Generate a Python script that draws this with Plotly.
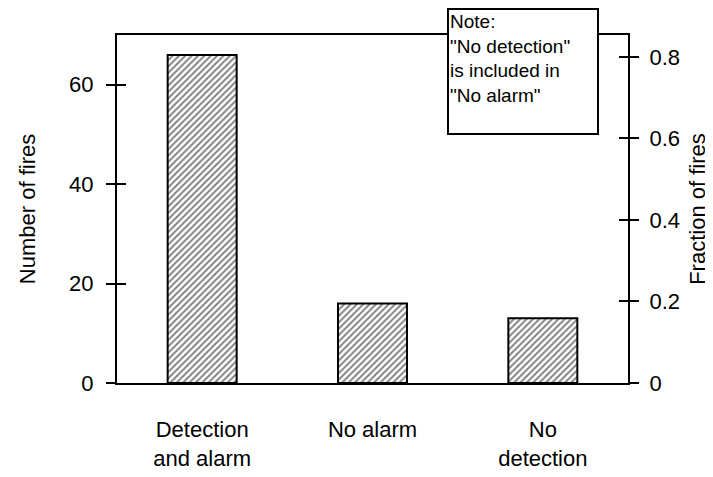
import plotly.graph_objects as go

categories = ["Detection<br>and alarm", "No alarm", "No<br>detection"]
counts = [66, 16, 13]
total_fires = 82
fractions = [c / total_fires for c in counts]
left_ticks = [0, 20, 40, 60]
right_ticks = [0, 0.2, 0.4, 0.6, 0.8]
right_tick_text = ["0", "0.2", "0.4", "0.6", "0.8"]
note_text = 'Note:<br>"No detection"<br>is included in<br>"No alarm"'

FONT = "Liberation Sans, Arial, Helvetica, sans-serif"
ymax = 70

fig = go.Figure()
fig.add_trace(go.Bar(
    x=categories, y=counts, width=0.405,
    marker=dict(color="white", line=dict(color="black", width=2),
                pattern=dict(shape="/", fgcolor="black", bgcolor="white",
                             size=4.5, solidity=0.42)),
    hoverinfo="skip", showlegend=False, yaxis="y"))
fig.add_trace(go.Scatter(x=categories, y=fractions, mode="markers",
                         marker=dict(opacity=0), yaxis="y2",
                         hoverinfo="skip", showlegend=False))
fig.add_trace(go.Scatter(x=categories, y=counts, mode="markers",
                         marker=dict(opacity=0), yaxis="y3",
                         hoverinfo="skip", showlegend=False))
fig.add_trace(go.Scatter(x=categories, y=fractions, mode="markers",
                         marker=dict(opacity=0), yaxis="y4",
                         hoverinfo="skip", showlegend=False))

tickfont = dict(family=FONT, size=22, color="black")
fig.update_layout(
    width=705, height=469,
    margin=dict(l=109, r=85, t=27, b=94, autoexpand=False),
    paper_bgcolor="white", plot_bgcolor="white",
    font=dict(family=FONT, size=22, color="black"),
    xaxis=dict(type="category", range=[-0.5, 2.5], showline=True,
               linecolor="black", linewidth=2, mirror=True, ticks="",
               showgrid=False, tickfont=tickfont, ticklabelstandoff=26,
               automargin=False),
    yaxis=dict(range=[0, ymax], tickvals=left_ticks, ticks="outside",
               ticklen=9, tickwidth=2, tickcolor="black", showline=True,
               linecolor="black", linewidth=2, showgrid=False,
               zeroline=False, tickfont=tickfont, ticklabelstandoff=8,
               automargin=False,
               title=dict(text="Number of fires", font=tickfont, standoff=27)),
    yaxis2=dict(range=[0, ymax / total_fires], overlaying="y", side="right",
                tickvals=right_ticks, ticktext=right_tick_text,
                ticks="outside", ticklen=9, tickwidth=2, tickcolor="black",
                showline=True, linecolor="black", linewidth=2,
                showgrid=False, zeroline=False, tickfont=tickfont,
                ticklabelstandoff=6, automargin=False,
                title=dict(text="Fraction of fires", font=tickfont, standoff=11)),
    yaxis3=dict(range=[0, ymax], overlaying="y", side="left",
                tickvals=left_ticks, ticks="inside", ticklen=9, tickwidth=2,
                tickcolor="black", showticklabels=False, showline=False,
                showgrid=False, zeroline=False, automargin=False),
    yaxis4=dict(range=[0, ymax / total_fires], overlaying="y", side="right",
                tickvals=right_ticks, ticks="inside", ticklen=9, tickwidth=2,
                tickcolor="black", showticklabels=False, showline=False,
                showgrid=False, zeroline=False, automargin=False),
    annotations=[dict(
        text=note_text, xref="paper", yref="paper",
        x=0.646, y=1.078, xanchor="left", yanchor="top",
        showarrow=False, align="left", width=146, height=121,
        valign="top",
        font=dict(family=FONT, size=19, color="black"),
        bgcolor="white", bordercolor="black", borderwidth=2, borderpad=1)],
)

fig.write_html("out.html")
